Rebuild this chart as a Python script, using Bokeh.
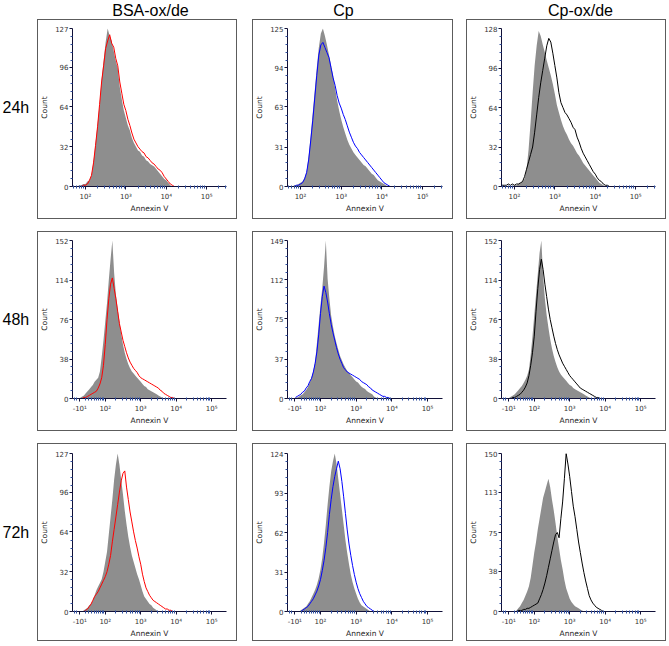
import math
from bokeh.plotting import figure
from bokeh.layouts import column, row
from bokeh.models import Range1d, FixedTicker, Spacer, Label, InlineStyleSheet
from bokeh.embed import file_html
from bokeh.resources import INLINE

# ---------------- data ----------------
# bin centres, in axis display units (decades; 2 -> 10^2)
bin_x = [1.30, 1.35, 1.40, 1.45, 1.50, 1.55, 1.60, 1.65, 1.70, 1.75,
         1.80, 1.85, 1.90, 1.95, 2.00, 2.05, 2.10, 2.15, 2.20, 2.25,
         2.30, 2.35, 2.40, 2.45, 2.50, 2.55, 2.60, 2.65, 2.70, 2.75,
         2.80, 2.85, 2.90, 2.95, 3.00, 3.05, 3.10, 3.15, 3.20, 3.25,
         3.30, 3.35, 3.40, 3.45, 3.50, 3.55, 3.60, 3.65, 3.70, 3.75,
         3.80, 3.85, 3.90, 3.95, 4.00, 4.05, 4.10, 4.15, 4.20, 4.25,
         4.30, 4.35, 4.40, 4.45, 4.50, 4.55, 4.60]

columns_titles = ["BSA-ox/de", "Cp", "Cp-ox/de"]
row_labels = ["24h", "48h", "72h"]

# 24h
ctrl_24_bsa = [0,0,0,0,0,0,0,0,0,0,
               0,1,1,2,2,4,5,9,20,35,
               50,66,86,101,116,127,121,117,109,101,
               95,80,70,61,55,49,45,39,35,32,
               29,28,25,24,21,20,18,17,16,14,
               12,10,8,6,5,3,1,0]
trt_24_bsa = [0,0,0,0,0,0,0,0,0,0,
              0,0,0,1,1,2,5,9,19,33,
              48,66,84,97,111,117,122,115,112,103,
              97,84,75,66,61,54,49,43,38,35,
              32,30,28,27,24,23,21,19,18,16,
              14,13,11,8,6,4,2,1,0]
ctrl_24_cp = [0,0,0,0,0,0,0,0,0,0,
              0,1,1,2,3,4,7,12,24,40,
              58,76,94,110,121,125,119,112,104,96,
              88,78,68,60,53,47,42,37,33,30,
              27,25,23,21,19,17,16,14,12,10,
              9,7,5,4,3,2,1,0]
trt_24_cp = [0,0,0,0,0,0,0,0,0,0,
             0,0,1,1,2,3,6,11,21,36,
             52,70,88,104,112,114,110,106,102,94,
             86,80,72,66,62,57,53,48,43,39,
             35,32,30,27,25,23,21,19,17,15,
             13,11,9,7,5,3,2,1,0]
ctrl_24_cpox = [0,0,0,0,0,0,0,0,0,0,
                0,0,0,0,1,1,2,3,4,6,
                14,30,52,76,98,114,126,122,115,109,
                102,96,90,83,75,66,60,54,49,45,
                42,38,35,33,30,27,25,22,19,17,
                15,13,11,9,7,5,3,2,1,0]
trt_24_cpox = [0,0,0,0,0,0,0,0,1,1,
               1,2,1,2,1,2,2,3,4,8,
               14,20,26,32,44,58,72,84,94,104,
               114,120,117,108,98,88,76,68,64,60,
               58,55,52,48,46,40,36,31,27,24,
               21,18,15,12,10,7,5,4,2,1,
               1,0]
# 48h
ctrl_48_bsa = [1,2,3,5,7,9,11,13,16,18,
               20,26,40,56,74,92,114,134,152,121,
               100,86,74,62,52,44,38,33,29,26,
               24,22,20,18,16,14,12,11,9,8,
               7,6,5,4,3,2,1,0]
trt_48_bsa = [0,0,1,1,2,3,4,5,6,7,
              10,14,20,32,52,76,96,110,116,106,
              96,84,72,64,56,50,44,39,35,32,
              29,27,25,22,20,19,18,17,16,15,
              14,13,12,11,10,8,7,5,4,3,
              2,1,1,0]
ctrl_48_cp = [1,1,2,3,4,6,8,11,15,20,
              26,35,52,70,88,104,124,149,113,94,
              78,68,59,52,46,40,36,32,29,26,
              24,22,20,18,16,15,13,11,10,9,
              7,6,5,4,2,1,0]
trt_48_cp = [1,2,3,4,6,7,10,12,16,19,
             25,33,44,60,80,96,106,100,91,80,
             70,62,55,48,42,37,33,29,27,25,
             24,23,22,21,20,19,18,16,15,14,
             13,11,10,8,7,6,5,4,3,2,
             2,1,1,0]
ctrl_48_cpox = [1,2,3,4,6,8,10,12,15,18,
                22,28,42,60,80,100,120,140,152,118,
                96,80,68,57,48,41,35,30,26,23,
                21,19,17,15,13,12,10,9,8,7,
                6,5,4,3,2,1,0]
trt_48_cpox = [0,0,1,1,2,3,4,6,8,11,
               15,22,32,44,60,84,106,124,134,124,
               110,98,86,76,68,60,53,47,42,38,
               34,31,28,25,22,20,18,16,14,12,
               10,9,8,7,6,5,4,3,2,1,
               1,0]
# 72h
ctrl_72_bsa = [0,0,1,2,3,5,6,9,13,17,
               20,23,26,32,40,48,62,76,90,106,
               118,127,118,106,94,81,70,60,52,45,
               40,35,30,26,21,16,12,10,8,6,
               5,3,2,1,0]
trt_72_bsa = [0,0,0,1,2,4,6,9,12,14,
              16,19,22,25,28,32,38,45,56,66,
              76,86,96,105,111,113,100,90,80,72,
              64,57,51,44,38,30,24,19,16,13,
              11,9,8,7,6,5,4,3,2,2,
              1,1,0]
ctrl_72_cp = [0,0,0,1,2,3,4,6,8,11,
              14,17,21,26,33,42,54,68,84,98,
              110,118,124,116,104,92,80,68,56,46,
              37,29,23,18,14,10,7,5,4,3,
              2,1,0]
trt_72_cp = [0,0,0,0,1,2,3,4,6,8,
             10,13,16,20,25,32,40,50,62,76,
             88,98,106,112,118,112,102,90,77,64,
             53,44,36,29,23,18,14,11,8,6,
             4,3,2,1,0]
ctrl_72_cpox = [0,0,0,0,1,3,5,8,11,15,
                19,24,32,44,56,66,78,88,98,108,
                114,120,126,118,106,96,84,71,60,49,
                40,30,22,17,12,9,7,5,4,3,
                2,1,0]
trt_72_cpox = [0,0,0,0,0,1,1,1,2,2,
               3,3,4,5,6,7,8,12,16,21,
               27,34,42,50,58,66,73,75,70,88,
               104,126,150,140,128,114,100,90,78,66,
               56,46,37,29,22,15,11,8,6,4,
               3,2,1,0]

# y tick labels per panel (top first)
yticks_24 = [[127, 96, 64, 32, 0], [125, 94, 63, 31, 0], [128, 96, 64, 32, 0]]
yticks_48 = [[152, 114, 76, 38, 0], [149, 112, 75, 37, 0], [152, 114, 76, 38, 0]]
yticks_72 = [[127, 96, 64, 32, 0], [124, 93, 62, 31, 0], [150, 113, 75, 38, 0]]

log_tick_labels = {2: "10²", 3: "10³", 4: "10⁴", 5: "10⁵"}
neg_tick_label = "-10¹"

line_colors = ["#ff0000", "#0000ff", "#000000"]

# ---------------- styling ----------------
GRAY = "#8e8e8e"
AXIS = "#101038"
MINOR = "#3050a0"
TICK_FONT = "DejaVu Sans"
BOX_W = [200, 201, 200]
ROW_H = [200, 200, 198]
ROW_BORDERS = [(9, 33), (9, 33), (10, 30)]
XR_LOG = (1.68, 5.49)
XR_BIEX = (1.076, 5.42)

BOX_CSS = InlineStyleSheet(css="""
:host { position: relative; }
:host::after {
  content: "";
  position: absolute;
  left: 0; top: 0; right: 0; bottom: 0;
  border: 1px solid #5c5c5c;
  box-sizing: border-box;
  pointer-events: none;
  z-index: 1000;
}
""")


def biex_pos(v):
    c = 24.7
    return 2 + (math.asinh(v / (2 * c)) - math.asinh(100 / (2 * c))) / math.log(10)


def log_minor(lo, hi):
    out = []
    for d in range(1, 6):
        for k in range(2, 10):
            t = math.log10(k * 10 ** d)
            if lo < t < hi:
                out.append(t)
    return out


def biex_minor(lo, hi):
    out = []
    for d in range(1, 5):
        for k in range(1, 10):
            for s in (1, -1):
                v = s * k * 10 ** d
                t = math.log10(v) if v >= 100 else biex_pos(v)
                if lo < t < hi and abs(t - biex_pos(-10)) > 0.01 and t not in (2, 3, 4, 5):
                    out.append(t)
    return out


def make_panel(ctrl, trt, color, yt, biex, w, h, borders):
    xr = XR_BIEX if biex else XR_LOG
    p = figure(width=w, height=h, x_range=Range1d(*xr), y_range=Range1d(0, yt[0]),
               toolbar_location=None, output_backend="svg",
               min_border_left=32, min_border_right=11,
               min_border_top=borders[0], min_border_bottom=borders[1],
               background_fill_color="white", border_fill_color="white",
               outline_line_color=None, stylesheets=[BOX_CSS])
    p.grid.visible = False
    xc = bin_x[:len(ctrl)]
    p.varea(x=xc, y1=[0] * len(ctrl), y2=ctrl, fill_color=GRAY, fill_alpha=1.0)
    xt = bin_x[:len(trt)]
    p.line(x=xt, y=trt, line_color=color, line_width=1)

    if biex:
        neg = round(biex_pos(-10), 3)
        major = [neg, 2, 3, 4, 5]
        labels = {neg: neg_tick_label}
        labels.update(log_tick_labels)
        minor = biex_minor(*xr)
    else:
        major = [2, 3, 4, 5]
        labels = dict(log_tick_labels)
        minor = log_minor(*xr)
    p.xaxis.ticker = FixedTicker(ticks=major, minor_ticks=minor)
    p.xaxis.major_label_overrides = labels
    p.yaxis.ticker = FixedTicker(ticks=yt, minor_ticks=[yt[0] * i / 20 for i in range(1, 20) if i % 5])

    for ax in (p.xaxis, p.yaxis):
        ax.axis_line_color = AXIS
        ax.axis_line_width = 1
        ax.major_tick_line_color = AXIS
        ax.minor_tick_line_color = MINOR
        ax.major_label_text_font = TICK_FONT
        ax.major_label_text_font_size = "7px"
        ax.major_label_text_color = "#333333"
        ax.axis_label_text_font = TICK_FONT
        ax.axis_label_text_font_size = "7.5px"
        ax.axis_label_text_font_style = "normal"
        ax.axis_label_text_color = "#222222"
    p.xaxis.major_tick_out = 3
    p.xaxis.major_tick_in = 0
    p.xaxis.minor_tick_out = 2
    p.xaxis.minor_tick_in = 1
    p.xaxis.major_label_standoff = 3
    p.xaxis.axis_label = "Annexin V"
    p.xaxis.axis_label_standoff = 0
    p.yaxis.major_tick_out = 3
    p.yaxis.major_tick_in = 0
    p.yaxis.minor_tick_out = 2
    p.yaxis.minor_tick_in = 0
    p.yaxis.major_label_standoff = 1
    p.yaxis.axis_label = "Count"
    p.yaxis.axis_label_standoff = 3
    return p


def text_fig(w, h):
    p = figure(width=w, height=h, x_range=Range1d(0, w), y_range=Range1d(0, h),
               toolbar_location=None, output_backend="svg", min_border=0,
               x_axis_location=None, y_axis_location=None, outline_line_color=None,
               background_fill_color="white", border_fill_color="white")
    p.grid.visible = False
    return p


TITLE_H = 19
title_row = text_fig(666, TITLE_H)
for t, cx in zip(columns_titles, [150, 343, 580]):
    title_row.add_layout(Label(x=cx, y=9.5, text=t, text_align="center", text_baseline="middle",
                               text_font="Liberation Sans", text_font_size="16px",
                               text_color="#000000"))

data_rows = [
    ([ctrl_24_bsa, ctrl_24_cp, ctrl_24_cpox], [trt_24_bsa, trt_24_cp, trt_24_cpox], yticks_24, False),
    ([ctrl_48_bsa, ctrl_48_cp, ctrl_48_cpox], [trt_48_bsa, trt_48_cp, trt_48_cpox], yticks_48, True),
    ([ctrl_72_bsa, ctrl_72_cp, ctrl_72_cpox], [trt_72_bsa, trt_72_cp, trt_72_cpox], yticks_72, True),
]

rows = []
for r, ((ctrls, trts, yts, biex), lab) in enumerate(zip(data_rows, row_labels)):
    h = ROW_H[r]
    lf = text_fig(37, h)
    lf.add_layout(Label(x=2, y=h / 2, text=lab, text_align="left", text_baseline="middle",
                        text_font="Liberation Sans", text_font_size="16px", text_color="#000000"))
    panels = [make_panel(ctrls[i], trts[i], line_colors[i], yts[i], biex, BOX_W[i], h, ROW_BORDERS[r])
              for i in range(3)]
    rows.append(row(lf, panels[0], Spacer(width=15, height=h), panels[1],
                    Spacer(width=13, height=h), panels[2]))

layout = column(title_row, rows[0], Spacer(width=10, height=12), rows[1],
                Spacer(width=10, height=12), rows[2])

open("out.html", "w").write(file_html(layout, INLINE))
